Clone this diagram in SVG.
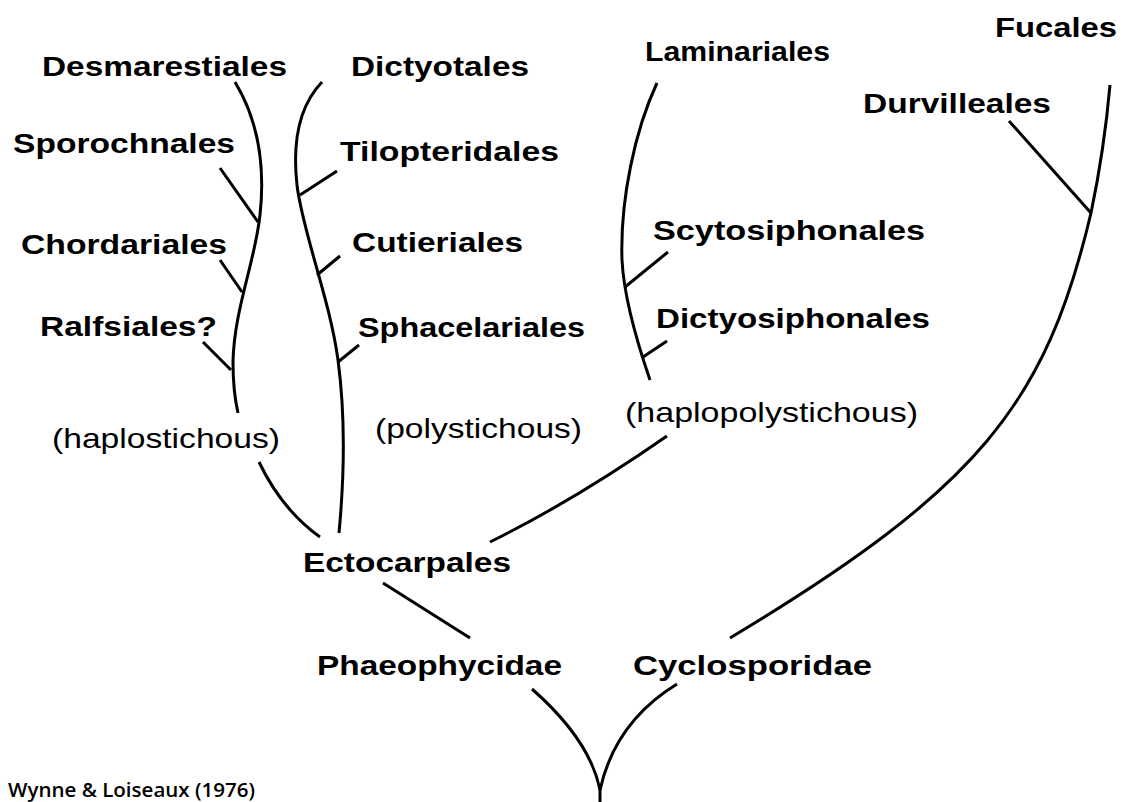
<svg xmlns="http://www.w3.org/2000/svg" width="1132" height="802" viewBox="0 0 1132 802">
<style>
.b{font-family:"Liberation Sans",Arial,Helvetica,sans-serif;font-weight:bold;font-size:28px;fill:#000}
.r{font-family:"Liberation Sans",Arial,Helvetica,sans-serif;font-weight:normal;font-size:28px;fill:#000}
.c{font-family:"Open Sans","Liberation Sans",sans-serif;font-weight:600;font-size:20px;fill:#000}
.e{fill:none;stroke:#000;stroke-width:3;stroke-linecap:butt}
</style>
<rect width="1132" height="802" fill="#fff"/>
<g id="connectors">
<path class="e" d="M235,82 C255,115 266,160 260,215 C255,262 234,310 233,362 C233,385 235,400 238,413"/>
<path class="e" d="M220,168 L258,222"/>
<path class="e" d="M220,260 L242,292"/>
<path class="e" d="M203,342 L231,370"/>
<path class="e" d="M322,82 C300,105 292,140 297,185 C302,230 330,300 338,360 C346,420 344,480 339,533"/>
<path class="e" d="M300,195 L337,171"/>
<path class="e" d="M317,275 L340,256"/>
<path class="e" d="M338,362 L359,345"/>
<path class="e" d="M657,83 C635,130 620,200 622,260 C624,300 638,345 650,380"/>
<path class="e" d="M625,287 L668,252"/>
<path class="e" d="M643,357 L667,341"/>
<path class="e" d="M259,462 Q282,510 320,537"/>
<path class="e" d="M490,542 Q575,500 667,436"/>
<path class="e" d="M383,583 L470,638"/>
<path class="e" d="M730,638 C980,488 1046,403 1091,213 C1100,170 1106,130 1110,85"/>
<path class="e" d="M1009,121 L1091,213"/>
<path class="e" d="M532,689 Q590,740 600,790"/>
<path class="e" d="M677,684 Q615,722 600,790"/>
<path class="e" d="M600,785 L600,802"/>
</g>
<g id="n-desmarestiales"><text class="b" x="42" y="76" textLength="245" lengthAdjust="spacingAndGlyphs">Desmarestiales</text></g>
<g id="n-dictyotales"><text class="b" x="351" y="76" textLength="178" lengthAdjust="spacingAndGlyphs">Dictyotales</text></g>
<g id="n-laminariales"><text class="b" x="645" y="61" textLength="185" lengthAdjust="spacingAndGlyphs">Laminariales</text></g>
<g id="n-fucales"><text class="b" x="995" y="37" textLength="122" lengthAdjust="spacingAndGlyphs">Fucales</text></g>
<g id="n-durvilleales"><text class="b" x="863" y="113" textLength="188" lengthAdjust="spacingAndGlyphs">Durvilleales</text></g>
<g id="n-sporochnales"><text class="b" x="13" y="153" textLength="222" lengthAdjust="spacingAndGlyphs">Sporochnales</text></g>
<g id="n-tilopteridales"><text class="b" x="340" y="161" textLength="219" lengthAdjust="spacingAndGlyphs">Tilopteridales</text></g>
<g id="n-chordariales"><text class="b" x="21" y="254" textLength="206" lengthAdjust="spacingAndGlyphs">Chordariales</text></g>
<g id="n-cutieriales"><text class="b" x="352" y="252" textLength="171" lengthAdjust="spacingAndGlyphs">Cutieriales</text></g>
<g id="n-scytosiphonales"><text class="b" x="653" y="240" textLength="272" lengthAdjust="spacingAndGlyphs">Scytosiphonales</text></g>
<g id="n-ralfsiales"><text class="b" x="40" y="336" textLength="177" lengthAdjust="spacingAndGlyphs">Ralfsiales?</text></g>
<g id="n-sphacelariales"><text class="b" x="358" y="337" textLength="227" lengthAdjust="spacingAndGlyphs">Sphacelariales</text></g>
<g id="n-dictyosiphonales"><text class="b" x="656" y="328" textLength="274" lengthAdjust="spacingAndGlyphs">Dictyosiphonales</text></g>
<g id="n-haplostichous"><text class="r" x="52" y="448" textLength="228" lengthAdjust="spacingAndGlyphs">(haplostichous)</text></g>
<g id="n-polystichous"><text class="r" x="375" y="438" textLength="207" lengthAdjust="spacingAndGlyphs">(polystichous)</text></g>
<g id="n-haplopolystichous"><text class="r" x="625" y="422" textLength="293" lengthAdjust="spacingAndGlyphs">(haplopolystichous)</text></g>
<g id="n-ectocarpales"><text class="b" x="303" y="572" textLength="208" lengthAdjust="spacingAndGlyphs">Ectocarpales</text></g>
<g id="n-phaeophycidae"><text class="b" x="317" y="675" textLength="245" lengthAdjust="spacingAndGlyphs">Phaeophycidae</text></g>
<g id="n-cyclosporidae"><text class="b" x="633" y="675" textLength="239" lengthAdjust="spacingAndGlyphs">Cyclosporidae</text></g>
<g id="credit"><text class="c" x="8" y="797" textLength="247" lengthAdjust="spacingAndGlyphs">Wynne &amp; Loiseaux (1976)</text></g>
</svg>
